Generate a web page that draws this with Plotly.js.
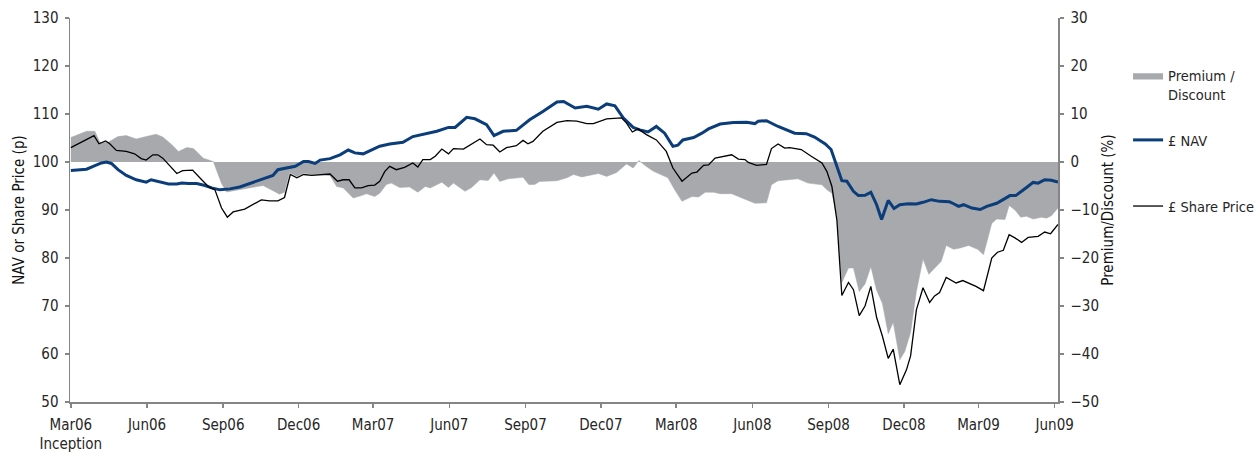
<!DOCTYPE html>
<html>
<head>
<meta charset="utf-8">
<script src="https://cdn.plot.ly/plotly-3.0.1.min.js"></script>
<style>
  html, body { margin: 0; padding: 0; background: #ffffff; }
  #chart { width: 1259px; height: 453px; }
</style>
</head>
<body>
<div id="chart"></div>
<script>
// x values: days since inception (1 Mar 2006)
const navDays = [0,19,27,37,43,49,57,67,79,91,97,107,118,128,134,142,152,162,170,180,192,204,214,224,236,244,250,261,271,281,287,295,301,313,325,335,343,353,361,373,385,401,413,430,442,456,464,478,488,502,511,522,538,554,570,587,595,609,623,637,647,657,667,679,687,697,707,717,727,733,739,752,762,770,784,800,816,826,830,840,854,874,888,898,911,918,925,931,937,945,951,959,966,973,979,987,994,1001,1011,1021,1029,1039,1049,1061,1066,1072,1078,1088,1098,1106,1118,1126,1134,1141,1148,1154,1162,1168,1176,1184,1192];
const navValues = [98.25,98.5,99.1,99.8,100.0,99.7,98.4,97.2,96.3,95.8,96.3,95.8,95.4,95.4,95.6,95.5,95.5,95.1,94.6,94.2,94.4,94.8,95.4,96.1,96.7,97.2,98.4,98.75,99.1,100.1,100.1,99.7,100.4,100.7,101.5,102.5,101.9,101.7,102.3,103.3,103.75,104.1,105.3,105.9,106.4,107.2,107.2,109.3,109.0,107.8,105.5,106.4,106.6,108.8,110.5,112.5,112.6,111.25,111.6,111.0,112.1,111.7,109.2,107.2,106.7,106.25,107.4,106.0,103.25,103.5,104.6,105.1,106.0,106.9,107.9,108.25,108.3,108.0,108.5,108.6,107.4,106.0,105.9,105.2,103.75,102.6,99.1,96.1,96.0,93.9,93.0,93.05,93.7,91.1,88.0,92.0,90.3,91.1,91.3,91.25,91.6,92.15,91.8,91.7,91.3,90.75,91.1,90.4,90.1,90.75,91.4,92.15,93.0,93.0,94.0,94.7,95.75,95.6,96.3,96.2,95.8];

const priceDays = [0,28,34,42,47,55,67,77,85,91,99,105,111,128,135,147,158,166,174,182,189,196,210,220,230,240,250,258,265,273,281,291,301,313,322,329,336,343,351,359,367,373,379,385,393,403,413,419,425,434,440,448,456,462,474,484,494,502,510,518,526,538,546,552,558,570,587,599,611,623,631,647,665,671,678,685,695,707,719,727,738,750,756,764,770,778,794,798,806,814,818,828,840,846,854,862,868,882,894,907,913,919,925,931,939,945,952,959,966,973,980,987,993,1001,1009,1014,1021,1029,1037,1043,1049,1057,1069,1077,1093,1102,1112,1119,1126,1133,1140,1148,1156,1168,1176,1183,1192];
const priceValues = [103.0,105.5,103.8,104.4,103.8,102.4,102.2,101.7,100.7,100.4,101.5,101.5,100.8,97.6,98.2,98.3,96.3,94.9,94.2,90.4,88.5,89.6,90.2,91.2,92.1,91.9,91.9,92.6,97.4,96.7,97.4,97.2,97.4,97.5,96.0,96.3,96.3,94.6,94.6,95.1,95.2,96.0,98.0,99.1,98.4,98.9,99.8,98.95,100.5,100.5,101.2,102.7,101.7,102.8,102.7,103.8,104.8,103.6,103.5,102.1,103.0,103.4,104.5,103.8,104.3,106.4,108.25,108.6,108.5,108.0,108.0,109.0,109.2,108.1,106.25,106.9,105.7,104.6,102.2,98.75,96.0,97.7,97.9,99.3,99.4,100.8,101.3,101.5,100.6,100.5,99.9,99.3,99.5,102.8,103.75,102.9,103.0,102.6,101.2,99.8,98.0,94.9,87.9,72.2,74.9,73.4,68.0,70.0,74.1,67.6,63.7,59.1,61.0,53.6,56.7,59.6,69.2,73.8,70.75,72.1,72.8,75.95,74.8,75.3,74.1,73.2,80.0,81.2,81.6,84.85,84.2,83.25,84.3,84.5,85.4,85.05,87.0];

const premDays = [0,19,29,35,45,57,67,79,91,103,111,122,130,140,148,160,172,182,188,204,220,232,242,252,258,264,273,281,291,301,313,321,329,341,351,357,367,373,381,387,397,409,419,428,434,448,456,462,476,484,494,504,511,518,528,546,553,560,566,587,599,607,617,637,647,659,671,679,686,693,703,713,721,729,738,750,758,766,776,784,798,806,816,826,840,846,854,866,878,890,907,913,919,925,931,939,945,952,959,966,973,980,987,993,1001,1007,1014,1021,1029,1036,1043,1051,1057,1066,1074,1084,1095,1102,1112,1118,1128,1133,1140,1147,1154,1162,1172,1178,1184,1192];
const premValues = [5.1,6.4,6.4,4.1,4.1,5.3,5.5,4.8,5.3,5.8,5.2,3.6,2.2,3.0,2.8,0.8,0.1,-4.5,-6.25,-5.8,-5.3,-4.9,-5.8,-6.7,-6.3,-2.2,-3.0,-2.3,-2.6,-2.6,-2.85,-5.1,-5.4,-7.5,-7.0,-6.6,-7.2,-6.5,-4.7,-4.4,-5.3,-5.2,-6.3,-5.1,-5.4,-4.2,-5.3,-4.4,-6.1,-5.3,-3.7,-3.85,-2.3,-4.05,-3.5,-3.2,-4.7,-4.7,-4.05,-3.9,-3.3,-2.6,-3.1,-2.4,-3.0,-2.2,-0.4,-1.25,0.3,-0.7,-1.9,-2.6,-3.3,-5.75,-8.2,-7.2,-7.3,-6.3,-6.3,-6.6,-6.6,-7.2,-7.9,-8.6,-8.5,-4.75,-3.9,-3.7,-3.5,-4.4,-4.75,-5.8,-6.5,-11.3,-25.1,-22.1,-22.1,-27.0,-25.4,-21.8,-26.7,-29.5,-35.8,-33.4,-41.2,-39.5,-35.5,-27.0,-20.2,-23.4,-22.2,-20.7,-17.4,-18.2,-17.9,-17.4,-18.2,-19.3,-12.8,-11.9,-12.0,-9.05,-10.0,-11.5,-11.3,-11.9,-11.5,-11.7,-11.2,-9.6];

const tickDays = [0,92,184,275,365,457,549,640,731,823,915,1006,1096,1188];
const tickLabels = ["Mar06<br>Inception","Jun06","Sep06","Dec06","Mar07","Jun07","Sep07","Dec07","Mar08","Jun08","Sep08","Dec08","Mar09","Jun09"];

const FONT = "'Liberation Sans Narrow', 'Arial Narrow', 'DejaVu Sans Condensed', sans-serif";
const TXT = '#262626';
const AXIS = '#858585';

// premium area on the base (right-hand) axis so the price lines draw above it
const traces = [
  {
    x: premDays, y: premValues, yaxis: 'y', type: 'scatter', mode: 'lines',
    name: 'Premium /<br>Discount', fill: 'tozeroy', fillcolor: '#a7a9ac',
    line: {color: '#a7a9ac', width: 0.5}, legend: 'legend'
  },
  {
    x: navDays, y: navValues, yaxis: 'y2', type: 'scatter', mode: 'lines', name: '£ NAV',
    line: {color: '#0a3d7a', width: 3}, legend: 'legend2'
  },
  {
    x: priceDays, y: priceValues, yaxis: 'y2', type: 'scatter', mode: 'lines', name: '£ Share Price',
    line: {color: '#000000', width: 1.3}, legend: 'legend3'
  }
];

const legendBase = {
  xref: 'container', yref: 'container',
  x: 0.896, xanchor: 'left', yanchor: 'middle', bgcolor: 'rgba(0,0,0,0)',
  font: {family: FONT, size: 14.5, color: TXT}, itemwidth: 30, valign: 'top'
};

const axisCommon = {
  showgrid: false, zeroline: false, showline: true, linecolor: AXIS, linewidth: 1.5,
  ticks: 'outside', ticklen: 4, tickcolor: AXIS, tickwidth: 1.5, automargin: false,
  tickfont: {family: FONT, size: 15, color: TXT}
};

const layout = {
  width: 1259, height: 453,
  margin: {l: 70, r: 201, t: 18, b: 51, autoexpand: false},
  paper_bgcolor: '#ffffff', plot_bgcolor: '#ffffff',
  font: {family: FONT, size: 15, color: TXT},
  showlegend: true,
  legend: Object.assign({}, legendBase, {y: 0.812}),
  legend2: Object.assign({}, legendBase, {y: 0.691}),
  legend3: Object.assign({}, legendBase, {y: 0.545}),
  xaxis: Object.assign({}, axisCommon, {
    range: [-1, 1192], tickmode: 'array', tickvals: tickDays, ticktext: tickLabels,
    ticklabelstandoff: 4
  }),
  yaxis: Object.assign({}, axisCommon, {
    range: [-50, 30], dtick: 10, tick0: -50, side: 'right',
    ticklabelstandoff: 4,
    title: {text: 'Premium/Discount (%)', font: {family: FONT, size: 15, color: '#111'}, standoff: 0}
  }),
  yaxis2: Object.assign({}, axisCommon, {
    range: [50, 130], dtick: 10, tick0: 50, side: 'left', overlaying: 'y',
    ticklabelstandoff: 3,
    title: {text: 'NAV or Share Price (p)', font: {family: FONT, size: 15, color: '#111'}, standoff: 4}
  })
};

Plotly.newPlot('chart', traces, layout, {displayModeBar: false, staticPlot: true});
</script>
</body>
</html>
